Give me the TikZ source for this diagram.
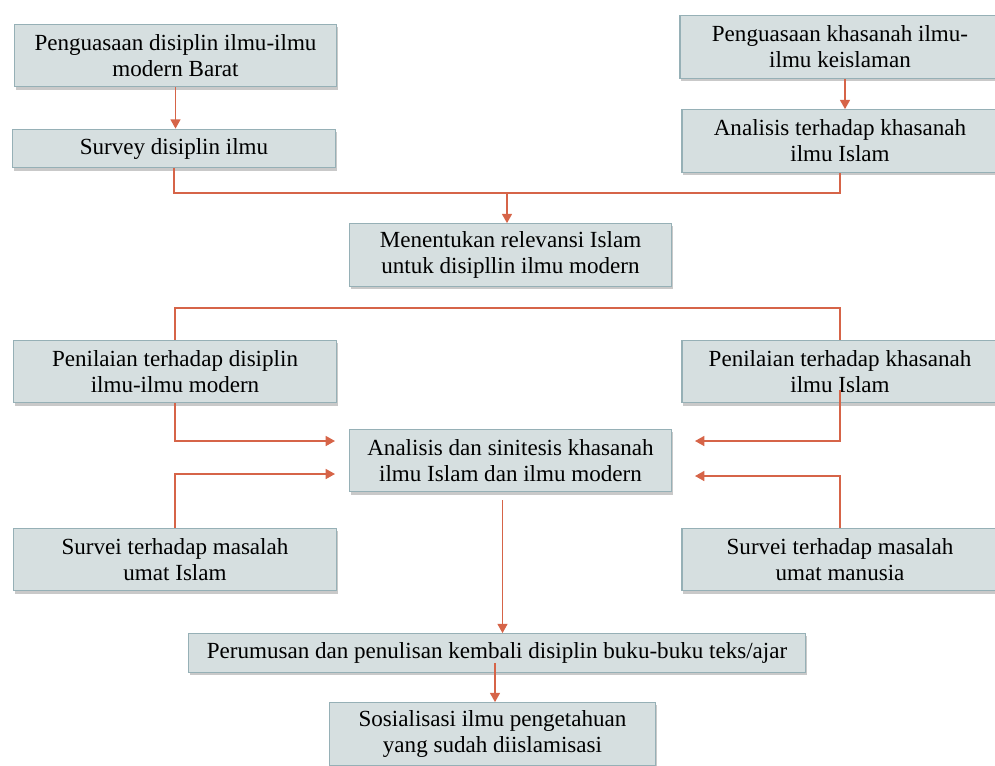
\documentclass[tikz,border=0pt]{standalone}
\usepackage{fontspec}
\setmainfont{Liberation Serif}
\usetikzlibrary{positioning,calc,shadows,arrows.meta}
\definecolor{boxfill}{RGB}{214,223,224}
\definecolor{boxline}{RGB}{150,176,182}
\definecolor{linkred}{RGB}{214,100,72}

\begin{document}
\begin{tikzpicture}[
    x=0.75pt, y=-0.75pt,
    every node/.style={font=\fontsize{17.3}{19.5}\selectfont},
    box/.style={rectangle, draw=boxline, fill=boxfill, line width=0.8pt, align=center, inner sep=0pt,
        minimum width=242pt, minimum height=47pt,
        drop shadow={shadow xshift=1pt, shadow yshift=-2pt, opacity=0.3, fill=black!70}},
    flat/.style={minimum height=29pt},
    arrow/.style={-{Triangle[length=7pt,width=7.5pt]}, draw=linkred, line width=1.2pt},
    link/.style={draw=linkred, line width=1.2pt}
]
\useasboundingbox (0,0) rectangle (995,765);

% Upper components
\node[box] (barat) at (175.5,55.5) {Penguasaan disiplin ilmu-ilmu\\modern Barat};
\node[box, flat] (survey) at (174,148.5) {Survey disiplin ilmu};
\node[box, minimum width=240pt] (khasanah) at (840,47) {Penguasaan khasanah ilmu-\\ilmu keislaman};
\node[box, minimum width=237pt] (analisis) at (840,141) {Analisis terhadap khasanah\\ilmu Islam};
\node[box] (relevansi) at (510.5,255) {Menentukan relevansi Islam\\untuk disipllin ilmu modern};

% Middle components
\node[box] (nilaibarat) at (175,371.5) {Penilaian terhadap disiplin\\ilmu-ilmu modern};
\node[box, minimum width=237pt] (nilaiislam) at (840,371.5) {Penilaian terhadap khasanah\\ilmu Islam};
\node[box] (sintesis) at (510.5,460.5) {Analisis dan sinitesis khasanah\\ilmu Islam dan ilmu modern};
\node[box] (umatislam) at (175,559.5) {Survei terhadap masalah\\umat Islam};
\node[box, minimum width=237pt] (umatmanusia) at (840,559.5) {Survei terhadap masalah\\umat manusia};

% Lower components
\node[box, flat, minimum width=463pt] (rumus) at (497,653) {Perumusan dan penulisan kembali disiplin buku-buku teks/ajar};
\node[box, minimum width=244pt] (sosial) at (492.5,734) {Sosialisasi ilmu pengetahuan\\yang sudah diislamisasi};

% Join points
\coordinate (joinA) at (507,193);
\coordinate (joinB) at (507,308);
\coordinate (inA) at (335,441);
\coordinate (inB) at (695,441);
\coordinate (inC) at (335,474);
\coordinate (inD) at (695,476);

% Arrows
\draw[arrow] (barat.south) -- (barat.south |- survey.north);
\draw[arrow] ($(khasanah.south)+(5,0)$) coordinate (outK) -- (outK |- analisis.north);
\draw[link] (survey.south) |- (joinA) -| (analisis.south);
\draw[arrow] (joinA) -- (joinA |- relevansi.north);
\draw[link] (nilaibarat.north) |- (joinB) -| (nilaiislam.north);
\draw[arrow] (nilaibarat.south) |- (inA);
\draw[arrow] ([yshift=10pt]nilaiislam.south) |- (inB);
\draw[arrow] (umatislam.north) |- (inC);
\draw[arrow] (umatmanusia.north) |- (inD);
\draw[arrow] ($(sintesis.south)+(-8,8)$) coordinate (outS) -- (outS |- rumus.north);
\draw[arrow] ($(rumus.south)+(-2,-10)$) coordinate (outR) -- (outR |- sosial.north);

\end{tikzpicture}
\end{document}
